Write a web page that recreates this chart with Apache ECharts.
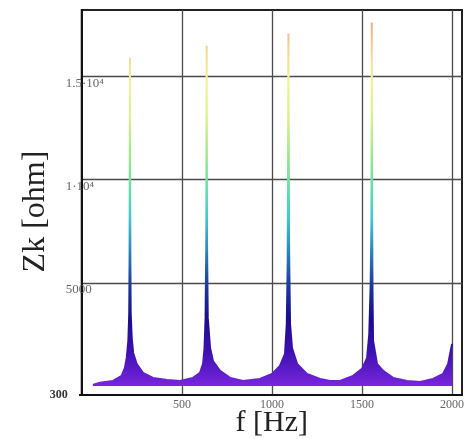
<!DOCTYPE html>
<html><head><meta charset="utf-8">
<script src="https://cdn.jsdelivr.net/npm/echarts@6/dist/echarts.min.js"></script>
<style>html,body{margin:0;padding:0;background:#fff}#c{width:469px;height:439px}</style>
</head><body><div id="c"></div>
<script>
// frequency [Hz]
const freq = [5, 44, 117, 165, 183, 193, 202, 207, 209, 211, 213, 215, 221, 229, 248, 283, 339, 417, 489, 561,
  600, 617, 625, 631, 635, 637, 639, 643, 656, 672, 711, 767, 839, 933, 1000, 1044, 1072, 1082, 1087, 1091,
  1095, 1100, 1111, 1139, 1194, 1267, 1322, 1378, 1450, 1500, 1528, 1540, 1548, 1552, 1554, 1556, 1558, 1561,
  1583, 1617, 1672, 1750, 1822, 1894, 1950, 1978, 2000];
// impedance Zk [ohm]
const zk = [50, 150, 240, 490, 870, 1360, 2180, 3500, 6500, 15920, 6500, 3500, 2300, 1600, 1070, 630, 390, 290, 240, 390,
  630, 1070, 1800, 3300, 7000, 16500, 7000, 3300, 1840, 1210, 730, 390, 240, 340, 580, 970, 1550, 3000, 6000, 17090,
  6500, 3000, 1840, 1070, 580, 340, 240, 240, 490, 830, 1360, 2500, 5000, 8000, 17620, 8000, 4500, 2200,
  1070, 730, 390, 240, 190, 340, 580, 1070, 2040];

const xTicks = [500, 1000, 1500, 2000];
const yTicks = [5000, 10000, 15000];
const yTickLabels = ['5000', '1·10⁴', '1.5·10⁴'];
const yMinLabel = '300';
const xRange = [-57, 2055];
const yRange = [-440, 18230];

const serif = 'Liberation Serif';
const chart = echarts.init(document.getElementById('c'), null, {renderer: 'canvas'});
const pts = freq.map((f, i) => [f, zk[i]]);

chart.setOption({
  animation: false,
  backgroundColor: '#fff',
  grid: {left: 81.7, top: 10, right: 7, bottom: 44, show: true, borderColor: '#222', borderWidth: 2,
    backgroundColor: 'transparent', containLabel: false, outerBoundsMode: 'none'},
  visualMap: {
    show: false, type: 'continuous', dimension: 1, seriesIndex: 0, min: 0, max: 18000,
    inRange: {color: ['#7826dc', '#3e10b2', '#1a0c8c', '#1c3a9c', '#2a86bc', '#44c8d0', '#6ee0a4', '#a8e88a', '#dcef92', '#f2f29c', '#f0d692', '#e8a088']}
  },
  xAxis: {
    type: 'value', min: xRange[0], max: xRange[1],
    axisLine: {onZero: false, lineStyle: {color: '#111', width: 2}},
    axisTick: {show: false, customValues: xTicks},
    axisLabel: {customValues: xTicks, formatter: v => String(v), margin: 4, color: '#666', fontFamily: serif, fontSize: 12},
    splitLine: {show: true, lineStyle: {color: '#4a4a4a', width: 1.3}},
    name: 'f [Hz]', nameLocation: 'middle', nameGap: 13, nameMoveOverlap: false,
    nameTextStyle: {fontFamily: serif, fontSize: 30, color: '#222', verticalAlign: 'top'}
  },
  yAxis: [{
    type: 'value', min: yRange[0], max: yRange[1], position: 'left',
    axisLine: {onZero: false, lineStyle: {color: '#111', width: 2}},
    axisTick: {show: false, customValues: yTicks},
    axisLabel: {customValues: yTicks, formatter: v => yTickLabels[yTicks.indexOf(v)], align: 'left', verticalAlign: 'top',
      margin: 16, color: '#666', fontFamily: serif, fontSize: 13},
    splitLine: {show: true, lineStyle: {color: '#4a4a4a', width: 1.3}},
    name: 'Zk [ohm]', nameLocation: 'middle', nameGap: 30,
    nameTextStyle: {fontFamily: serif, fontSize: 32, color: '#222', padding: [0, 18, 0, 0]}
  }, {
    type: 'value', min: yRange[0], max: yRange[1], position: 'left',
    axisLine: {show: false},
    axisTick: {show: true, customValues: [yRange[0]], length: 13, lineStyle: {color: '#111', width: 2}},
    axisLabel: {customValues: [yRange[0]], formatter: () => yMinLabel, margin: 14, color: '#333', fontFamily: serif, fontSize: 12, fontWeight: 'bold'},
    splitLine: {show: false}
  }],
  series: [{
    type: 'line', yAxisIndex: 0, data: pts, showSymbol: false, smooth: false,
    lineStyle: {width: 2},
    areaStyle: {opacity: 1}
  }]
});
</script></body></html>
